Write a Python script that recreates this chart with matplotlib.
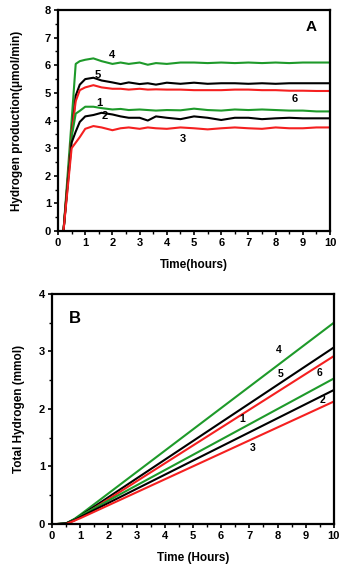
import numpy as np
import matplotlib.pyplot as plt
from matplotlib.ticker import MultipleLocator

plt.rcParams['font.family'] = ['Liberation Sans', 'DejaVu Sans']
plt.rcParams['font.weight'] = 'bold'

# Panel A: hydrogen production rate (umol/min) vs time (hours)
t_a = [0.2, 0.5, 0.65, 0.8, 1.0, 1.3, 1.6, 2.0, 2.3, 2.6, 3.0, 3.3, 3.6, 4.0, 4.5, 5.0, 5.5, 6.0, 6.5, 7.0, 7.5, 8.0, 8.5, 9.0, 9.5, 10.0]
rate_4 = [0, 4.0, 6.05, 6.15, 6.2, 6.25, 6.15, 6.05, 6.1, 6.05, 6.1, 6.02, 6.08, 6.05, 6.1, 6.1, 6.08, 6.1, 6.08, 6.1, 6.08, 6.1, 6.08, 6.1, 6.1, 6.1]
rate_5 = [0, 3.5, 4.9, 5.3, 5.5, 5.55, 5.45, 5.38, 5.32, 5.38, 5.32, 5.35, 5.3, 5.37, 5.33, 5.37, 5.33, 5.35, 5.35, 5.33, 5.35, 5.33, 5.35, 5.35, 5.35, 5.35]
rate_6 = [0, 3.5, 4.7, 5.1, 5.2, 5.28, 5.2, 5.15, 5.15, 5.12, 5.15, 5.12, 5.13, 5.12, 5.12, 5.1, 5.1, 5.1, 5.12, 5.12, 5.1, 5.1, 5.08, 5.08, 5.07, 5.07]
rate_1 = [0, 3.4, 4.25, 4.35, 4.5, 4.5, 4.45, 4.4, 4.42, 4.38, 4.4, 4.38, 4.36, 4.38, 4.37, 4.43, 4.38, 4.36, 4.4, 4.38, 4.4, 4.38, 4.36, 4.36, 4.33, 4.33]
rate_2 = [0, 3.2, 3.6, 3.95, 4.15, 4.2, 4.28, 4.22, 4.15, 4.1, 4.1, 4.0, 4.15, 4.1, 4.05, 4.15, 4.1, 4.02, 4.1, 4.1, 4.05, 4.08, 4.1, 4.08, 4.08, 4.08]
rate_3 = [0, 3.0, 3.2, 3.4, 3.7, 3.8, 3.75, 3.65, 3.72, 3.75, 3.7, 3.75, 3.72, 3.7, 3.75, 3.72, 3.68, 3.72, 3.75, 3.72, 3.7, 3.75, 3.72, 3.72, 3.75, 3.75]

# Panel B: total hydrogen (mmol) vs time (hours)
t_b = [0.2, 0.5, 0.8, 1.0, 10.0]
total_4 = [0, 0.01, 0.09, 0.16, 3.5]
total_5 = [0, 0.01, 0.08, 0.14, 3.07]
total_6 = [0, 0.0, 0.06, 0.12, 2.92]
total_1 = [0, 0.01, 0.08, 0.14, 2.53]
total_2 = [0, 0.01, 0.07, 0.12, 2.33]
total_3 = [0, 0.0, 0.06, 0.1, 2.13]

green = '#1e9a2a'
red = '#f52020'
black = '#000000'

fig = plt.figure(figsize=(3.56, 5.71), dpi=100)
ax1 = fig.add_axes([0.163, 0.5954, 0.764, 0.387])
ax2 = fig.add_axes([0.146, 0.0823, 0.792, 0.403])

lw = 1.5
ax1.plot(t_a, rate_4, color=green, lw=lw)
ax1.plot(t_a, rate_5, color=black, lw=lw)
ax1.plot(t_a, rate_6, color=red, lw=lw)
ax1.plot(t_a, rate_1, color=green, lw=lw)
ax1.plot(t_a, rate_2, color=black, lw=lw)
ax1.plot(t_a, rate_3, color=red, lw=lw)

for s, x, y in [('4', 2.0, 6.38), ('5', 1.45, 5.65), ('6', 8.7, 4.78), ('1', 1.5, 4.62),
                ('2', 1.7, 4.15), ('3', 4.6, 3.33)]:
    ax1.text(x, y, s, fontsize=8, fontweight='bold', ha='center', va='center')
ax1.text(9.3, 7.4, 'A', fontsize=11, fontweight='bold', ha='center', va='center')

ax1.set_xlim(0, 10)
ax1.set_ylim(0, 8)
ax1.set_xlabel('Time(hours)', fontsize=8.5, fontweight='bold', labelpad=8)
ax1.set_ylabel('Hydrogen production(\u03bcmol/min)', fontsize=8.5, fontweight='bold', labelpad=16)

ax2.plot(t_b, total_4, color=green, lw=lw)
ax2.plot(t_b, total_5, color=black, lw=lw)
ax2.plot(t_b, total_6, color=red, lw=lw)
ax2.plot(t_b, total_1, color=green, lw=lw)
ax2.plot(t_b, total_2, color=black, lw=lw)
ax2.plot(t_b, total_3, color=red, lw=lw)

for s, x, y in [('4', 8.05, 3.02), ('5', 8.1, 2.6), ('6', 9.5, 2.63), ('1', 6.75, 1.83),
                ('2', 9.6, 2.15), ('3', 7.1, 1.32)]:
    ax2.text(x, y, s, fontsize=7.5, fontweight='bold', ha='center', va='center')
ax2.text(0.8, 3.58, 'B', fontsize=12, fontweight='bold', ha='center', va='center')

ax2.set_xlim(0, 10)
ax2.set_ylim(0, 4)
ax2.set_xlabel('Time (Hours)', fontsize=8.5, fontweight='bold', labelpad=8)
ax2.set_ylabel('Total Hydrogen (mmol)', fontsize=8.5, fontweight='bold', labelpad=10)

for ax in (ax1, ax2):
    ax.xaxis.set_major_locator(MultipleLocator(1))
    ax.yaxis.set_major_locator(MultipleLocator(1))
    ax.xaxis.set_minor_locator(MultipleLocator(0.5))
    ax.yaxis.set_minor_locator(MultipleLocator(0.5))
    ax.tick_params(which='major', direction='out', length=3, width=1.2, labelsize=8, pad=2)
    ax.tick_params(which='minor', direction='out', length=2, width=1)
    for lab in ax.get_xticklabels() + ax.get_yticklabels():
        lab.set_fontweight('bold')
    for sp in ax.spines.values():
        sp.set_linewidth(1.6)

fig.savefig('out.png', dpi=100)
